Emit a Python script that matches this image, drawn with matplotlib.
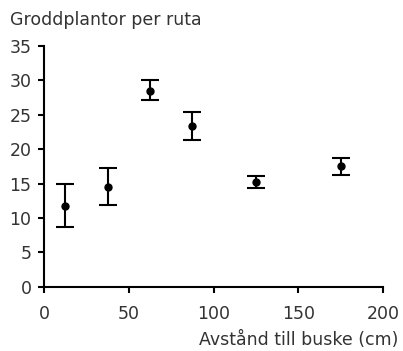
import numpy as np
import matplotlib
matplotlib.use('Agg')
import matplotlib.pyplot as plt

plt.rcParams['font.family'] = ['DejaVu Sans']

# data
distance = [12.5, 37.5, 62.5, 87.5, 125, 175]
mean = [11.75, 14.5, 28.5, 23.3, 15.2, 17.5]
upper = [15.0, 17.2, 30.1, 25.4, 16.1, 18.7]
lower = [8.7, 11.9, 27.1, 21.4, 14.35, 16.3]

xticks = [0, 50, 100, 150, 200]
yticks = [0, 5, 10, 15, 20, 25, 30, 35]

mean = np.array(mean)
yerr = [mean - np.array(lower), np.array(upper) - mean]

txt = '#333333'
fs = 12.5
fig = plt.figure(figsize=(4.03, 3.51), dpi=100)
ax = fig.add_axes([0.109, 0.183, 0.842, 0.686])

ax.errorbar(distance, mean, yerr=yerr, fmt='o', color='black', ms=5,
            elinewidth=1.5, capsize=6.5, capthick=1.5, clip_on=False)

ax.set_xlim(0, 200)
ax.set_ylim(0, 35)
ax.set_xticks(xticks)
ax.set_yticks(yticks)
for s in ['top', 'right']:
    ax.spines[s].set_visible(False)
for s in ['left', 'bottom']:
    ax.spines[s].set_linewidth(1.5)
ax.tick_params(direction='out', length=4, width=1.5, labelsize=fs,
               labelcolor=txt, pad=5)
ax.tick_params(axis='x', pad=9)

fig.text(0.025, 0.929, 'Groddplantor per ruta', fontsize=fs, color=txt,
         ha='left', va='baseline')
fig.text(0.988, 0.017, 'Avstånd till buske (cm)', fontsize=fs, color=txt,
         ha='right', va='baseline')

fig.savefig('out.png', dpi=100)
